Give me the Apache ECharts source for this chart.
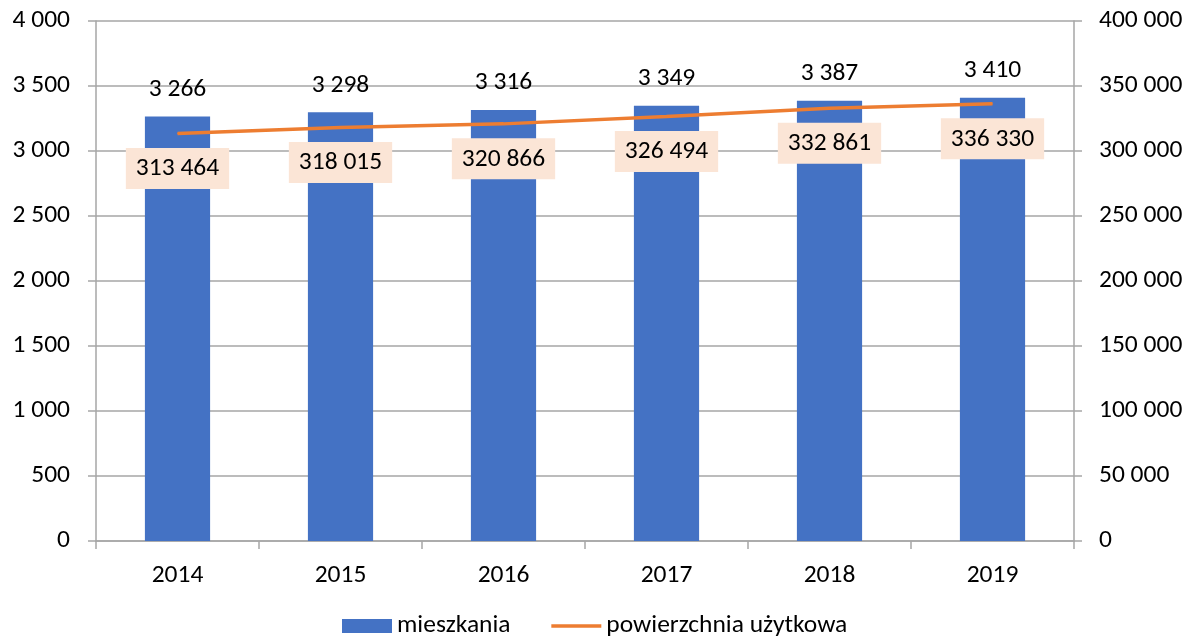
<!DOCTYPE html>
<html>
<head>
<meta charset="utf-8">
<script src="https://cdn.jsdelivr.net/npm/echarts@6/dist/echarts.min.js"></script>
<style>
  html, body { margin: 0; padding: 0; background: #fff; }
  #chart { width: 1195px; height: 644px; }
</style>
</head>
<body>
<div id="chart"></div>
<script>
// lata
var years = ["2014", "2015", "2016", "2017", "2018", "2019"];
// liczba mieszkań
var mieszkania = [3266, 3298, 3316, 3349, 3387, 3410];
// powierzchnia użytkowa (m2)
var powierzchnia = [313464, 318015, 320866, 326494, 332861, 336330];

var FONT = "Carlito, 'Open Sans', sans-serif";
var FS = 25.5;

function spaced(v) {
  return String(v).replace(/\B(?=(\d{3})+(?!\d))/g, " ");
}

var chart = echarts.init(document.getElementById("chart"));

var option = {
  animation: false,
  textStyle: { fontFamily: FONT, color: "#000" },
  grid: { left: 96, right: 121, top: 21, bottom: 103, containLabel: false },
  legend: {
    bottom: 0,
    left: 337,
    itemWidth: 50,
    itemHeight: 14,
    itemGap: 39,
    textStyle: { fontFamily: FONT, fontSize: FS, color: "#000" },
    data: [
      { name: "mieszkania", icon: "rect" },
      { name: "powierzchnia użytkowa", itemStyle: { opacity: 0 }, lineStyle: { width: 3.5, color: "#ed7d31" } }
    ]
  },
  xAxis: {
    type: "category",
    data: years,
    axisLine: { lineStyle: { color: "#a6a6a6", width: 1.5 } },
    axisTick: { show: true, length: 8, lineStyle: { color: "#a6a6a6", width: 1.5 } },
    axisLabel: { fontFamily: FONT, fontSize: FS, color: "#000", margin: 22 }
  },
  yAxis: [
    {
      type: "value",
      min: 0,
      max: 4000,
      interval: 500,
      axisLine: { show: true, lineStyle: { color: "#a6a6a6", width: 1.5 } },
      axisTick: { show: true, length: 8, lineStyle: { color: "#a6a6a6", width: 1.5 } },
      splitLine: { show: true, lineStyle: { color: "#a6a6a6", width: 1.5 } },
      axisLabel: { fontFamily: FONT, fontSize: FS, color: "#000", margin: 26, formatter: spaced }
    },
    {
      type: "value",
      min: 0,
      max: 400000,
      interval: 50000,
      axisLine: { show: true, lineStyle: { color: "#a6a6a6", width: 1.5 } },
      axisTick: { show: true, length: 8, lineStyle: { color: "#a6a6a6", width: 1.5 } },
      splitLine: { show: false },
      axisLabel: { fontFamily: FONT, fontSize: FS, color: "#000", margin: 25, formatter: spaced }
    }
  ],
  series: [
    {
      name: "mieszkania",
      type: "bar",
      data: mieszkania,
      barWidth: "40%",
      itemStyle: { color: "#4472c4" },
      label: {
        show: true,
        position: "top",
        distance: 14,
        fontFamily: FONT,
        fontSize: FS,
        color: "#000",
        formatter: function (p) { return spaced(p.value); }
      }
    },
    {
      name: "powierzchnia użytkowa",
      type: "line",
      yAxisIndex: 1,
      data: powierzchnia,
      symbol: "circle",
      symbolSize: 1,
      itemStyle: { color: "#ed7d31" },
      lineStyle: { color: "#ed7d31", width: 3.5 },
      label: {
        show: true,
        position: "bottom",
        distance: 14,
        fontFamily: FONT,
        fontSize: FS,
        color: "#000",
        backgroundColor: "#fbe5d6",
        padding: [8, 10, 7, 10],
        formatter: function (p) { return spaced(p.value); }
      }
    }
  ]
};

chart.setOption(option);
</script>
</body>
</html>
